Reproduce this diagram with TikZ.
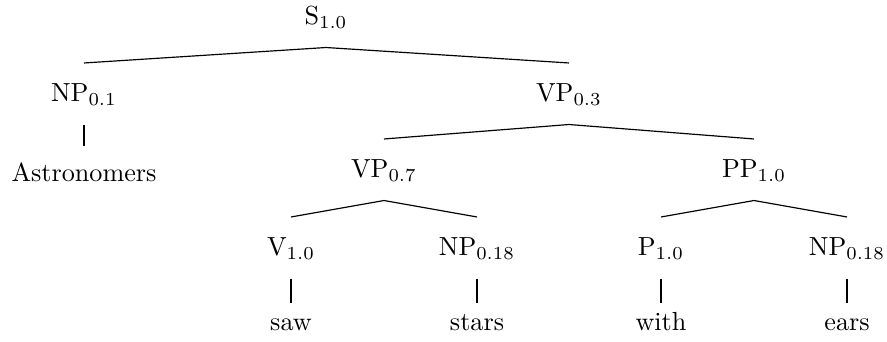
\documentclass[tikz,border=0pt]{standalone}
\usepackage{tikz}
\usetikzlibrary{positioning}

\begin{document}
\begin{tikzpicture}[x=0.3824pt, y=-0.3824pt,
    cat/.style={anchor=base, inner xsep=0pt, inner ysep=8.41pt, text height=6.31pt, text depth=0pt},
    word/.style={cat, text height=1.9pt},
    branch/.style={draw, line width=0.45pt}]
    \useasboundingbox (0,0) rectangle (887,342);

    % categories
    \node[cat] (s) at (326,25) {S$_{1.0}$};
    \node[cat] (np1) at (84,102) {NP$_{0.1}$};
    \node[cat] (vp1) at (569,102) {VP$_{0.3}$};
    \node[cat] (vp2) at (384,178) {VP$_{0.7}$};
    \node[cat] (pp) at (754,178) {PP$_{1.0}$};
    \node[cat] (v) at (291,256) {V$_{1.0}$};
    \node[cat] (np2) at (477,256) {NP$_{0.18}$};
    \node[cat] (p) at (661,256) {P$_{1.0}$};
    \node[cat] (np3) at (847,256) {NP$_{0.18}$};

    % words
    \node[word, text height=5pt] (astro) at (84,182) {Astronomers};
    \node[word] (saw) at (291,330) {saw};
    \node[word] (stars) at (477,330) {stars};
    \node[word] (with) at (661,330) {with};
    \node[word] (ears) at (847,330) {ears};

    \draw[branch] (np1.north) -- (s.south) -- (vp1.north);
    \draw[branch] (vp2.north) -- (vp1.south) -- (pp.north);
    \draw[branch] (v.north) -- (vp2.south) -- (np2.north);
    \draw[branch] (p.north) -- (pp.south) -- (np3.north);
    \draw[branch] (np1.south) -- (astro.north);
    \draw[branch] (v.south) -- (saw.north);
    \draw[branch] (np2.south) -- (stars.north);
    \draw[branch] (p.south) -- (with.north);
    \draw[branch] (np3.south) -- (ears.north);
\end{tikzpicture}
\end{document}
